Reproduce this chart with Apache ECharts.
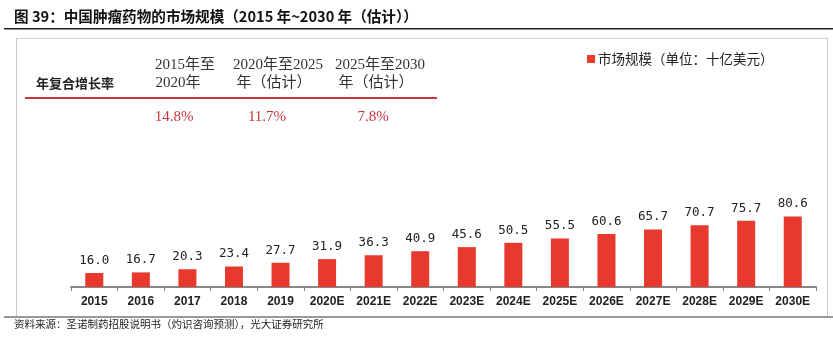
<!DOCTYPE html>
<html>
<head>
<meta charset="utf-8">
<script src="https://cdn.jsdelivr.net/npm/echarts@6/dist/echarts.min.js"></script>
<style>html,body{margin:0;padding:0;background:#fff;}#c{width:833px;height:340px;}</style>
</head>
<body>
<div id="c"></div>
<script>
var categories = ['2015','2016','2017','2018','2019','2020E','2021E','2022E','2023E','2024E','2025E','2026E','2027E','2028E','2029E','2030E'];
var marketSize = [16.0,16.7,20.3,23.4,27.7,31.9,36.3,40.9,45.6,50.5,55.5,60.6,65.7,70.7,75.7,80.6];
var cagrHeaders = [['2015年至','2020年'],['2020年至2025','年（估计）'],['2025年至2030','年（估计）']];
var cagrValues = ['14.8%','11.7%','7.8%'];

var chart = echarts.init(document.getElementById('c'));
var serif = '"Liberation Serif","Noto Sans CJK SC",serif';
var headerX = [185, 278, 380];
var valueX = [174, 267, 373];
var graphics = [
  {type:'text', left:14, top:9, style:{text:'图 39：中国肿瘤药物的市场规模（2015 年~2030 年（估计））', font:'bold 14.6px "Noto Sans CJK SC", sans-serif', fill:'#111'}},
  {type:'rect', shape:{x:4,y:28,width:829,height:1.5}, style:{fill:'#222'}},
  {type:'rect', shape:{x:16,y:38,width:812,height:1}, style:{fill:'#d0d0d0'}},
  {type:'rect', shape:{x:16,y:38,width:1,height:278}, style:{fill:'#c8c8c8'}},
  {type:'rect', shape:{x:827,y:38,width:1,height:278}, style:{fill:'#c8c8c8'}},
  {type:'rect', shape:{x:4,y:316,width:829,height:2}, style:{fill:'#999'}},
  {type:'text', left:14, top:319, style:{text:'资料来源：圣诺制药招股说明书（灼识咨询预测），光大证券研究所', font:'10.5px "Noto Sans CJK SC", sans-serif', fill:'#222'}},
  {type:'text', x:36, y:83, style:{text:'年复合增长率', font:'bold 13px "Noto Sans CJK SC", sans-serif', fill:'#222', verticalAlign:'middle'}},
  {type:'rect', shape:{x:25,y:97,width:412,height:2}, style:{fill:'#c9343a'}},
  {type:'rect', shape:{x:587,y:55,width:8,height:8}, style:{fill:'#e8392f'}},
  {type:'text', x:598, y:59, style:{text:'市场规模（单位：十亿美元）', font:'13.5px "Noto Sans CJK SC", sans-serif', fill:'#222', verticalAlign:'middle'}}
];
cagrHeaders.forEach(function(h, i){
  graphics.push({type:'text', x:headerX[i], y:65, style:{text:h[0], font:'15px '+serif, fill:'#333', align:'center', verticalAlign:'middle'}});
  graphics.push({type:'text', x:headerX[i] - (i===0?7:4), y:83, style:{text:h[1], font:'15px '+serif, fill:'#333', align:'center', verticalAlign:'middle'}});
  graphics.push({type:'text', x:valueX[i], y:117, style:{text:cagrValues[i], font:'15px '+serif, fill:'#c9343a', align:'center', verticalAlign:'middle'}});
});

chart.setOption({
  animation:false,
  grid:{left:71, right:17, top:199.5, bottom:53},
  xAxis:{
    type:'category', data:categories, boundaryGap:true,
    axisLine:{lineStyle:{color:'#888', width:2}},
    axisTick:{show:true, length:4, lineStyle:{color:'#888'}},
    axisLabel:{color:'#222', fontWeight:'bold', fontSize:12, fontFamily:'"Liberation Sans",Arial,sans-serif', margin:9, interval:0}
  },
  yAxis:{type:'value', min:0, max:100, show:false, splitLine:{show:false}},
  graphic:graphics,
  series:[{
    type:'bar', data:marketSize, barWidth:18,
    itemStyle:{color:'#e8392f'},
    label:{show:true, position:'top', distance:6, color:'#222', fontSize:12.5, fontFamily:'"DejaVu Sans Mono",monospace',
      formatter:function(p){return p.value.toFixed(1);}}
  }]
});
</script>
</body>
</html>
